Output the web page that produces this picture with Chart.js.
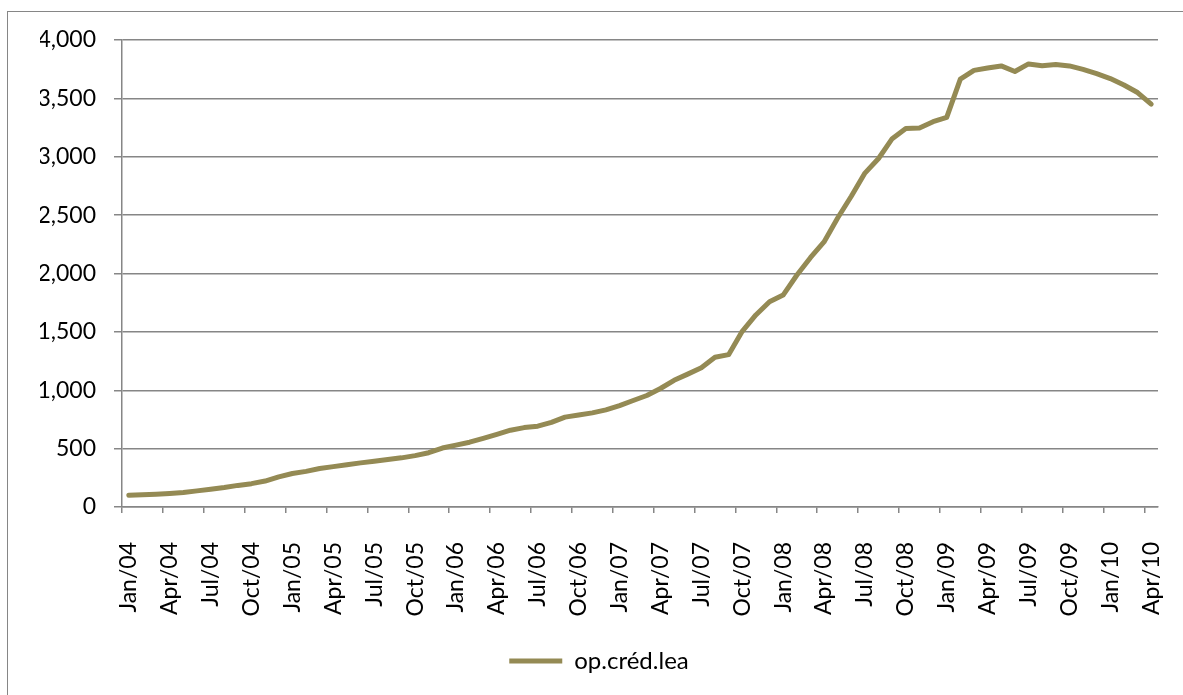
<!DOCTYPE html>
<html>
<head>
<meta charset="utf-8">
<script src="https://cdn.jsdelivr.net/npm/chart.js@4/dist/chart.umd.min.js"></script>
<style>
    html, body { margin: 0; padding: 0; background: #fff; overflow: hidden; }
    #frame {
        position: absolute; left: 7px; top: 11px;
        width: 1200px; height: 720px;
        border: 1px solid #868686;
    }
    #wrap { position: absolute; left: 0; top: 0; width: 1183px; height: 695px; }
</style>
</head>
<body>
<div id="frame"></div>
<div id="wrap"><canvas id="chart" width="1183" height="695"></canvas></div>
<script>
// Monthly categories, Jan/04 .. Apr/10
const categories = [
    'Jan/04','Feb/04','Mar/04','Apr/04','May/04','Jun/04','Jul/04','Aug/04','Sep/04','Oct/04','Nov/04','Dec/04',
    'Jan/05','Feb/05','Mar/05','Apr/05','May/05','Jun/05','Jul/05','Aug/05','Sep/05','Oct/05','Nov/05','Dec/05',
    'Jan/06','Feb/06','Mar/06','Apr/06','May/06','Jun/06','Jul/06','Aug/06','Sep/06','Oct/06','Nov/06','Dec/06',
    'Jan/07','Feb/07','Mar/07','Apr/07','May/07','Jun/07','Jul/07','Aug/07','Sep/07','Oct/07','Nov/07','Dec/07',
    'Jan/08','Feb/08','Mar/08','Apr/08','May/08','Jun/08','Jul/08','Aug/08','Sep/08','Oct/08','Nov/08','Dec/08',
    'Jan/09','Feb/09','Mar/09','Apr/09','May/09','Jun/09','Jul/09','Aug/09','Sep/09','Oct/09','Nov/09','Dec/09',
    'Jan/10','Feb/10','Mar/10','Apr/10'
];

// op.créd.lea series
const credLea = [
    100, 104, 109, 116, 124, 138, 152, 167, 185, 200, 222, 258,
    287, 305, 330, 346, 362, 378, 392, 406, 421, 440, 465, 505,
    530, 555, 588, 622, 658, 680, 692, 725, 770, 788, 806, 832,
    868, 912, 955, 1015, 1085, 1138, 1192, 1282, 1305, 1505, 1645, 1758,
    1815, 1985, 2135, 2270, 2475, 2662, 2860, 2985, 3155, 3243, 3247, 3300,
    3337, 3665, 3740, 3760, 3778, 3730, 3795, 3780, 3790, 3778, 3748, 3712,
    3670, 3615, 3550, 3450
];

const yTicks = [0, 500, 1000, 1500, 2000, 2500, 3000, 3500, 4000];

const seriesName = 'op.créd.lea';
const lineColor = '#948A54';
const gridColor = '#868686';
const fontFamily = 'Lato, "Liberation Sans", sans-serif';

new Chart(document.getElementById('chart'), {
    type: 'line',
    data: {
        labels: categories,
        datasets: [{
            label: seriesName,
            data: credLea,
            borderColor: lineColor,
            backgroundColor: lineColor,
            borderWidth: 5,
            borderCapStyle: 'round',
            borderJoinStyle: 'round',
            pointRadius: 0,
            tension: 0
        }]
    },
    options: {
        responsive: false,
        animation: false,
        layout: {
            // left padding keeps the legend centred on the outer frame
            padding: { top: 40, right: 25, left: 40, bottom: 12 }
        },
        scales: {
            x: {
                type: 'category',
                offset: true,
                grid: {
                    offset: true,
                    drawOnChartArea: false,
                    drawTicks: true,
                    tickLength: 6,
                    lineWidth: 1.5,
                    color: ctx => (ctx.index % 3 === 0 ? gridColor : 'rgba(0,0,0,0)')
                },
                border: { color: gridColor, width: 1.5 },
                ticks: {
                    autoSkip: false,
                    minRotation: 90,
                    maxRotation: 90,
                    padding: 29,
                    color: '#000',
                    font: { family: fontFamily, size: 23 },
                    callback: function (val, idx) {
                        return idx % 3 === 0 ? this.getLabelForValue(val) : '';
                    }
                },
                afterFit: scale => {
                    scale.height = 132;
                    scale.paddingLeft = 0;
                    scale.paddingRight = 0;
                }
            },
            y: {
                min: 0,
                max: 4000,
                afterBuildTicks: scale => {
                    scale.ticks = yTicks.map(v => ({ value: v }));
                },
                grid: {
                    color: gridColor,
                    lineWidth: 1.5,
                    tickLength: 8
                },
                border: { color: gridColor, width: 1.5 },
                ticks: {
                    padding: 18,
                    color: '#000',
                    font: { family: fontFamily, size: 23 },
                    callback: v => v.toLocaleString('en-US')
                },
                afterFit: scale => { scale.width = 82; }
            }
        },
        plugins: {
            legend: {
                position: 'bottom',
                labels: {
                    usePointStyle: true,
                    pointStyle: 'line',
                    pointStyleWidth: 53,
                    color: '#000',
                    padding: 10,
                    font: { family: fontFamily, size: 24 }
                }
            },
            tooltip: { enabled: false }
        }
    }
});
</script>
</body>
</html>
